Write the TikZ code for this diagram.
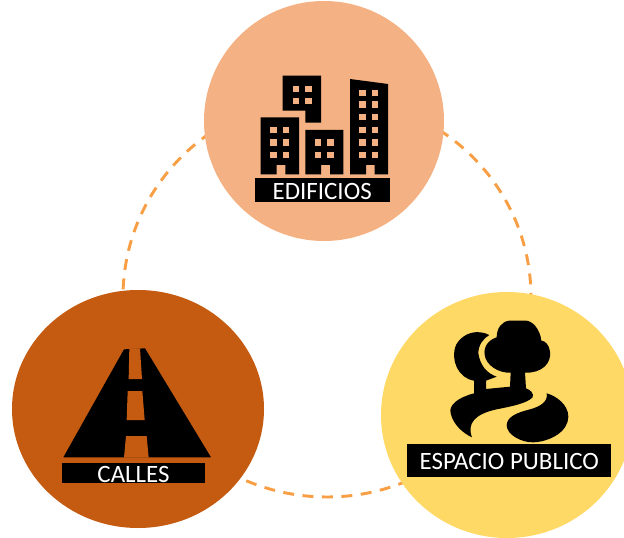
\documentclass[tikz,border=0pt]{standalone}
\usepackage{fontspec}
\setmainfont{Carlito}
\definecolor{cTop}{HTML}{F4B183}
\definecolor{cLeft}{HTML}{C55A11}
\definecolor{cRight}{HTML}{FFD966}
\definecolor{cDash}{HTML}{F89F45}
\tikzset{
  tag/.style={fill=black,text=white,inner sep=0pt,font=\fontsize{18.7pt}{20pt}\selectfont,text height=14.2pt,text depth=0pt},
  ring/.style={draw=cDash,line width=2.2pt,dash pattern=on 8.2pt off 6.4pt},
}
\begin{document}
\begin{tikzpicture}[x=0.75pt,y=-0.75pt]
\useasboundingbox (0,0) rectangle (624,538);
\clip (0,0) rectangle (624,538);
\draw[ring] (327,297) ellipse [x radius=204,y radius=200];
\fill[cTop] (324,121) ellipse [x radius=120,y radius=120];
\fill[cLeft] (138,409) ellipse [x radius=126,y radius=119];
\fill[cRight] (507,415) ellipse [x radius=126,y radius=123];
% buildings
\begin{scope}[shift={(240,60)},scale=1/3]
\fill[black] (128,47)--(243,47)--(243,188)--(196,188)--(196,152)--(128,152)--cycle;
\fill[black] (62,172)--(177,172)--(177,343)--(136,343)--(136,315)--(110,315)--(110,343)--(62,343)--cycle;
\fill[black] (196,210)--(310,210)--(310,343)--(270,343)--(270,315)--(243,315)--(243,343)--(196,343)--cycle;
\fill[black] (330,57)--(444,72)--(444,343)--(404,343)--(404,315)--(378,315)--(378,343)--(330,343)--cycle;
\foreach \x/\y in {158/77,196/77,158/113,196/113,
  91/200,129/200,91/238,129/238,91/276,129/276,
  224/238,262/238,224/276,262/276,
  358/90,396/90,358/124,396/124,358/162,396/162,358/200,396/200,358/238,396/238,358/276,396/276}
  \fill[cTop] (\x,\y) rectangle ++(19,19);
\end{scope}
% road
\begin{scope}[shift={(50,335)},scale=1/3]
\fill[black] (222,43)--(285,40)--(483,367)--(40,367)--cycle;
\fill[cLeft] (238,40)--(270,40)--(276,132)--(236,132)--cycle;
\fill[cLeft] (233,168)--(277,168)--(284,255)--(230,255)--cycle;
\fill[cLeft] (228,303)--(290,303)--(296,368)--(222,368)--cycle;
\end{scope}
% park
\begin{scope}[shift={(400,310)},scale=1/3]
\fill[black] (268,75) .. controls (235,58) and (190,65) .. (168,105)
  .. controls (150,150) and (175,205) .. (222,212)
  -- (222,250) .. controls (175,262) and (145,285) .. (152,310)
  .. controls (160,345) and (190,370) .. (216,382)
  .. controls (200,340) and (225,312) .. (290,298)
  .. controls (340,288) and (380,280) .. (398,262)
  .. controls (402,250) and (392,240) .. (378,235)
  -- (375,188) .. controls (425,190) and (455,160) .. (450,125)
  .. controls (448,105) and (435,92) .. (424,92)
  .. controls (420,55) and (395,32) .. (378,32)
  -- (327,32) .. controls (305,35) and (290,55) .. (290,82)
  .. controls (265,90) and (250,110) .. (254,135)
  .. controls (258,165) and (295,190) .. (332,188)
  -- (330,230) -- (258,237) -- (258,212) -- (290,200)
  .. controls (260,190) and (240,165) .. (235,130)
  .. controls (235,105) and (250,85) .. (268,75) -- cycle;
\fill[black] (440,250) .. controls (445,275) and (420,290) .. (390,298)
  .. controls (350,308) and (322,320) .. (320,345)
  .. controls (320,375) and (365,398) .. (400,397)
  .. controls (450,395) and (505,365) .. (505,320)
  .. controls (505,285) and (470,258) .. (440,250) -- cycle;
\end{scope}
% labels
\node[tag,minimum width=101.3pt,minimum height=18pt] (edif) at (322.2,190.3) {EDIFICIOS};
\node[tag,minimum width=107.8pt,minimum height=15pt] (call) at (133.5,473.3) {CALLES};
\node[tag,minimum width=153pt,minimum height=25.3pt] (espa) at (509.3,460.5) {ESPACIO PUBLICO};
\end{tikzpicture}
\end{document}
